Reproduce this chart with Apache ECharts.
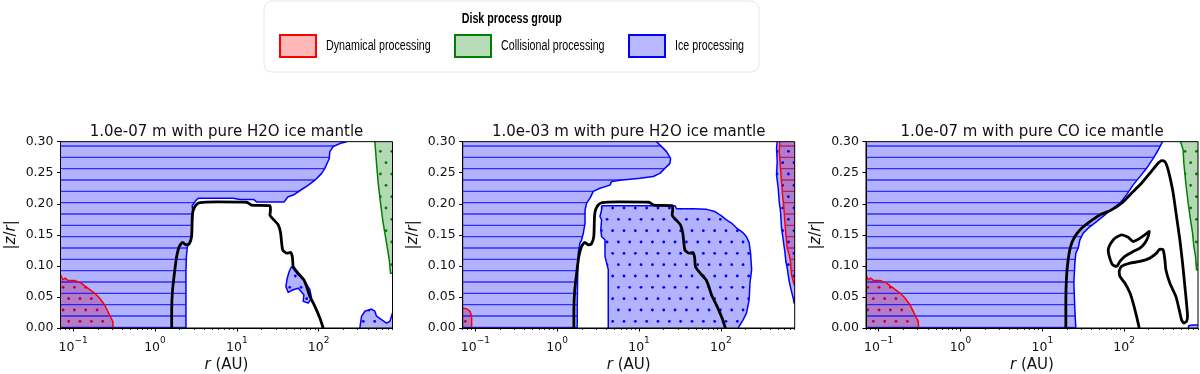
<!DOCTYPE html>
<html><head><meta charset="utf-8">
<script src="https://cdn.jsdelivr.net/npm/echarts@6/dist/echarts.min.js"></script>
<style>html,body{margin:0;padding:0;background:#fff}#c{width:1200px;height:374px}</style>
</head><body><div id="c"></div>
<script>
// ---------------- DATA ----------------
const rMin = 0.07, rMax = 800;          // AU (log axis range)
const zMin = 0, zMax = 0.3, zStep = 0.05;
const xMajorTicks = [0.1, 1, 10, 100];
const panelTitles = [
  '1.0e-07 m with pure H2O ice mantle',
  '1.0e-03 m with pure H2O ice mantle',
  '1.0e-07 m with pure CO ice mantle'
];
const legendTitle = 'Disk process group';
const legendNames = ['Dynamical processing', 'Collisional processing', 'Ice processing'];
const xName = '{i|r} (AU)';
const yName = '|{i|z}/{i|r}|';

// region outlines as [r (AU), |z/r|]
const dynInner = [[0.07,0.0857],[0.0747,0.0777],[0.0798,0.0804],[0.086,0.0766],[0.104,0.0766],[0.125,0.0723],[0.151,0.0643],[0.182,0.0563],[0.21,0.0482],[0.241,0.0375],[0.265,0.0268],[0.286,0.0177],[0.305,0.0107],[0.308,0],[0.07,0]];

const p1Ice = [[0.07,0.3],[219,0.3],[182,0.297],[151,0.292],[137,0.284],[135,0.273],[119,0.257],[109,0.249],[90,0.238],[75,0.230],[62,0.223],[49,0.214],[42,0.211],[38,0.203],[28,0.203],[17.4,0.203],[16,0.207],[11,0.207],[9,0.209],[3.4,0.209],[3.2,0.206],[2.85,0.197],[2.9,0.185],[2.85,0.17],[2.8,0.15],[2.65,0.137],[2.48,0.13],[2.42,0.115],[2.39,0.09],[2.39,0],[0.07,0]];
const p1IceA = [[46.7,0.099],[56.3,0.0857],[67.9,0.075],[78.2,0.0616],[82,0.048],[74.6,0.040],[64.8,0.043],[66.1,0.0536],[56.3,0.064],[48.9,0.0616],[42.5,0.0573],[39.8,0.067],[41.3,0.080],[43.7,0.091]];
const p1IceB = [[319,0],[335,0.019],[368,0.027],[443,0.0305],[487,0.027],[510,0.019],[587,0.0134],[676,0.008],[743,0.0107],[800,0.024],[800,0]];
const p1Col = [[487,0.3],[500,0.281],[510,0.265],[535,0.233],[571,0.201],[615,0.169],[676,0.137],[730,0.11],[757,0.088],[800,0.088],[800,0.3]];

const p2Ice = [[0.07,0.3],[16.4,0.3],[18.9,0.292],[21.7,0.284],[24.3,0.273],[23.9,0.265],[20.7,0.257],[18,0.249],[14.9,0.244],[10.3,0.241],[5.85,0.238],[4.63,0.236],[4.42,0.23],[3.33,0.225],[2.76,0.22],[2.52,0.209],[2.29,0.201],[2.19,0.19],[2.19,0.169],[2.09,0.153],[1.99,0.142],[1.90,0.137],[1.81,0.121],[1.78,0.083],[1.76,0.04],[1.76,0],[0.07,0]];
const p2Dyn = [[0.07,0.032],[0.078,0.031],[0.086,0.0268],[0.09,0.019],[0.09,0],[0.07,0]];
const p2IceDots = [[3.49,0.197],[3.49,0.19],[3.33,0.1795],[3.49,0.174],[3.41,0.158],[3.49,0.147],[3.84,0.142],[3.84,0.115],[4.02,0.1045],[4.21,0.094],[4.21,0],[163,0],[188,0.0134],[206,0.024],[222,0.0455],[227,0.072],[238,0.094],[231,0.1205],[222,0.137],[206,0.147],[188,0.153],[156,0.161],[135,0.169],[117,0.174],[102,0.1805],[84.7,0.1875],[67,0.191],[46,0.192],[28.8,0.192],[27.5,0.197]];
const p2StripIce = [[489,0.3],[480,0.2893],[489,0.2679],[480,0.2464],[503,0.225],[517,0.2036],[537,0.1875],[552,0.1607],[568,0.15],[590,0.1339],[606,0.1232],[624,0.1071],[648,0.0964],[685,0.075],[731,0.0589],[767,0.0482],[788,0.0402],[800,0.04],[800,0.3]];
const p2StripDyn = [[527,0.3],[517,0.2839],[537,0.2571],[552,0.2357],[568,0.2143],[590,0.1929],[606,0.1714],[624,0.15],[648,0.1286],[685,0.1179],[711,0.1071],[731,0.0857],[767,0.075],[788,0.0696],[800,0.0696],[800,0.3]];

const p3Ice = [[0.07,0.3],[295,0.3],[261,0.2866],[227,0.2732],[188,0.2571],[156,0.2437],[129,0.2304],[107,0.2143],[88.8,0.2009],[73.6,0.1929],[58.2,0.1821],[46,0.1714],[36.4,0.1607],[31.6,0.1527],[28.8,0.142],[27.5,0.1286],[25.7,0.1205],[25,0.1045],[24.3,0.0723],[25,0.0295],[25.7,0],[0.07,0]];
const p3Col = [[489,0.3],[527,0.2866],[537,0.2652],[568,0.233],[607,0.2009],[648,0.1741],[686,0.1527],[712,0.1313],[746,0.1152],[767,0.0938],[800,0.0938],[800,0.3]];
const p3IceSmall = [[607,0],[620,0.004],[700,0.005],[800,0.005],[800,0]];

// black contour lines
const blackH2O = [[1.60,0],[1.60,0.0295],[1.64,0.0616],[1.75,0.094],[1.84,0.115],[1.98,0.131],[2.18,0.138],[2.39,0.134],[2.62,0.1355],[2.80,0.147],[2.86,0.18],[2.94,0.19],[3.17,0.198],[3.54,0.202],[5.66,0.203],[13.2,0.2025],[15.1,0.198],[25.4,0.197],[25.8,0.19],[25.4,0.182],[28.4,0.174],[32.1,0.166],[34.3,0.153],[36.3,0.126],[40.6,0.1205],[45.8,0.1216],[48,0.1125],[48.9,0.099],[56.3,0.088],[66,0.0777],[71.2,0.067],[78.2,0.051],[90,0.0348],[103.5,0.016],[113.7,0]];
const blackCO = [[19.4,0],[19.4,0.0455],[19.8,0.083],[20.7,0.1098],[22.2,0.1313],[25,0.1473],[30.2,0.1607],[38.2,0.1714],[50.6,0.1821],[70.2,0.1902],[93,0.2009],[123,0.217],[163,0.233],[206,0.249],[249,0.2625],[287,0.2695],[315,0.2679],[336,0.2598],[362,0.2437],[398,0.217],[437,0.1795],[480,0.142],[518,0.1045],[553,0.067],[579,0.0402],[596,0.01875],[579,0.0107],[537,0.008],[503,0.0134],[471,0.0295],[429,0.0509],[362,0.0723],[324,0.0938],[315,0.1098],[300,0.1259],[273,0.127],[249,0.1205],[206,0.1125],[156,0.1071],[118,0.1045],[93,0.0991],[87.1,0.0911],[88.8,0.083],[102,0.0723],[118,0.0563],[129,0.0402],[142,0.0188],[153,0]];
const blackCOLoop = [[77.1,0.1446],[93,0.15],[112,0.1462],[129,0.1393],[149,0.143],[179,0.15],[203,0.1554],[197,0.1473],[179,0.1366],[156,0.1286],[129,0.1232],[102,0.1152],[88.8,0.1071],[80.8,0.0991],[72.2,0.1018],[65.8,0.1152],[63.9,0.1259],[67,0.1339],[73.6,0.142],[77.1,0.1446]];

// ---------------- STYLE / LAYOUT ----------------
const FONT = '"DejaVu Sans", sans-serif';
const LFONT = '"Liberation Sans", Arial, sans-serif';
const gridLefts = [60.5, 462.7, 866];
const gridW = 332, gridTop = 141.67, gridH = 186.67;
const groups = {
  dyn: {name: legendNames[0], rgb: '255,0,0', edge: '#ff0000', z: 2},
  col: {name: legendNames[1], rgb: '0,128,0', edge: '#008000', z: 2},
  ice: {name: legendNames[2], rgb: '0,0,255', edge: '#0000ff', z: 3}
};
const panels = [
  {regions: [[dynInner,'dyn','dots'],[p1Col,'col','dots'],[p1Ice,'ice','lines'],[p1IceA,'ice','dots'],[p1IceB,'ice','dots']], lines: [blackH2O]},
  {regions: [[p2Dyn,'dyn','dots'],[p2StripDyn,'dyn','lines'],[p2Ice,'ice','lines'],[p2IceDots,'ice','dots'],[p2StripIce,'ice','dots']], lines: [blackH2O]},
  {regions: [[dynInner,'dyn','dots'],[p3Col,'col','dots'],[p3Ice,'ice','lines'],[p3IceSmall,'ice','dots']], lines: [blackCO, blackCOLoop]}
];

// hatch patterns (anchored to canvas origin like matplotlib hatches)
const HP = 68 / 6;
function makePattern(kind, rgb) {
  const W = 34, H = 68;
  const c = document.createElement('canvas'); c.width = W; c.height = H;
  const g = c.getContext('2d');
  g.fillStyle = 'rgba(' + rgb + ',0.3)'; g.fillRect(0, 0, W, H);
  if (kind === 'lines') {
    g.strokeStyle = 'rgba(' + rgb + ',0.75)'; g.lineWidth = 1.3;
    for (let k = 0; k < 6; k++) { const y = 10 + k * HP; g.beginPath(); g.moveTo(0, y); g.lineTo(W, y); g.stroke(); }
  } else if (kind === 'dots') {
    g.fillStyle = 'rgb(' + rgb + ')';
    for (let k = 0; k < 6; k++) {
      const y = 4 + k * HP; const off = (k % 2 === 1) ? 6.4 : 0.67;
      for (let j = -1; j < 4; j++) { g.beginPath(); g.arc(off + j * HP, y, 1.4, 0, Math.PI * 2); g.fill(); }
    }
  }
  return {image: c, repeat: 'repeat'};
}
const patterns = {};
for (const k in groups) { patterns[k + '_lines'] = makePattern('lines', groups[k].rgb); patterns[k + '_dots'] = makePattern('dots', groups[k].rgb); }

function onSameEdge(a, b) {
  const L = p => p[0] <= rMin * 1.001, R = p => p[0] >= rMax * 0.999;
  const B = p => p[1] <= zMin + 1e-6, T = p => p[1] >= zMax - 1e-6;
  return (L(a) && L(b)) || (R(a) && R(b)) || (B(a) && B(b)) || (T(a) && T(b));
}
const toXY = p => [Math.log10(p[0]), p[1]];

const series = [];
panels.forEach((pan, pi) => {
  pan.regions.forEach(([pts, gk, hatch]) => {
    const grp = groups[gk];
    series.push({
      type: 'custom', name: grp.name, coordinateSystem: 'cartesian2d', xAxisIndex: pi * 2, yAxisIndex: pi,
      z: grp.z, silent: true, clip: true, data: [[0, 0]],
      renderItem: (params, api) => ({
        type: 'polygon',
        shape: {points: pts.map(p => api.coord(toXY(p)))},
        style: {fill: patterns[gk + '_' + hatch], stroke: null}
      })
    });
    series.push({
      type: 'custom', name: grp.name + ' edge', coordinateSystem: 'cartesian2d', xAxisIndex: pi * 2, yAxisIndex: pi,
      z: 4, silent: true, clip: true, data: [[0, 0]],
      renderItem: (params, api) => {
        const n = pts.length, segs = []; let cur = null;
        for (let i = 0; i < n; i++) {
          const a = pts[i], b = pts[(i + 1) % n];
          if (onSameEdge(a, b)) { if (cur) { segs.push(cur); cur = null; } continue; }
          if (!cur) cur = [a];
          cur.push(b);
        }
        if (cur) segs.push(cur);
        return {type: 'group', children: segs.map(s => ({
          type: 'polyline', shape: {points: s.map(p => api.coord(toXY(p)))},
          style: {stroke: grp.edge, lineWidth: 1.5, fill: null, lineJoin: 'round'}
        }))};
      }
    });
  });
  pan.lines.forEach(ln => {
    series.push({
      type: 'line', xAxisIndex: pi * 2, yAxisIndex: pi, data: ln.map(toXY),
      symbol: 'none', showSymbol: false, smooth: 0.2, silent: true, clip: true, z: 5,
      lineStyle: {color: '#000', width: 2.8, join: 'round'}
    });
  });
});

const lmin = Math.log10(rMin), lmax = Math.log10(rMax);
const majorVals = xMajorTicks.map(Math.log10);
const minorVals = [];
for (let n = -2; n <= 3; n++) for (let k = 2; k <= 9; k++) {
  const v = Math.log10(k * Math.pow(10, n)); if (v >= lmin && v <= lmax) minorVals.push(v);
}
const supText = e => (e < 0 ? '\u2212' + (-e) : '' + e);

const grids = [], xAxes = [], yAxes = [];
gridLefts.forEach((gl, pi) => {
  grids.push({left: gl, top: gridTop, width: gridW, height: gridH, show: true, borderColor: '#000', borderWidth: 1, backgroundColor: 'transparent', z: 10});
  xAxes.push({
    type: 'value', gridIndex: pi, position: 'bottom', min: lmin, max: lmax, z: 10,
    axisLine: {show: true, onZero: false, lineStyle: {color: '#000', width: 1}},
    axisTick: {show: true, customValues: majorVals, length: 3.5, lineStyle: {color: '#000', width: 1}},
    splitLine: {show: false},
    axisLabel: {
      customValues: majorVals, margin: 8, color: '#111',
      formatter: v => '{b|10}{s|' + supText(Math.round(v)) + '}',
      rich: {b: {fontSize: 12.5, fontFamily: FONT, color: '#111', lineHeight: 18, verticalAlign: 'bottom'},
             s: {fontSize: 9, fontFamily: FONT, color: '#111', lineHeight: 9, verticalAlign: 'top'}}
    },
    name: xName, nameLocation: 'middle', nameGap: 30,
    nameTextStyle: {fontSize: 15, fontFamily: FONT, color: '#111', rich: {i: {fontSize: 15, fontFamily: FONT, fontStyle: 'italic', color: '#111'}}}
  });
  xAxes.push({
    type: 'value', gridIndex: pi, position: 'bottom', min: lmin, max: lmax, z: 10,
    axisLine: {show: false, onZero: false}, splitLine: {show: false}, axisLabel: {show: false},
    axisTick: {show: true, customValues: minorVals, length: 2, lineStyle: {color: '#000', width: 0.8}}
  });
  yAxes.push({
    type: 'value', gridIndex: pi, min: zMin, max: zMax, interval: zStep, z: 10,
    axisLine: {show: true, onZero: false, lineStyle: {color: '#000', width: 1}},
    axisTick: {show: true, length: 3.5, lineStyle: {color: '#000', width: 1}},
    splitLine: {show: false},
    axisLabel: {fontSize: 12.5, fontFamily: FONT, color: '#111', margin: 7, formatter: v => v.toFixed(2)},
    name: yName, nameLocation: 'middle', nameRotate: 90, nameGap: 42,
    nameTextStyle: {fontSize: 15, fontFamily: FONT, color: '#111', rich: {i: {fontSize: 15, fontFamily: FONT, fontStyle: 'italic', color: '#111'}}}
  });
});

const graphics = panelTitles.map((t, i) => ({
  type: 'text', x: gridLefts[i] + gridW / 2, y: 132, z: 20,
  style: {text: t, fontSize: 15, fontFamily: FONT, fill: '#111', align: 'center', verticalAlign: 'middle'}
}));

// legend box drawn with graphic elements (condensed text like the reference)
const legendFills = ['rgba(255,0,0,0.28)', 'rgba(0,128,0,0.28)', 'rgba(0,0,255,0.28)'];
const legendEdges = ['#ff0000', '#008000', '#0000ff'];
const legendSwatchX = [279, 454, 628];
const LSX = 0.765;
graphics.push({type: 'rect', x: 264, y: 1, z: 15, shape: {width: 495, height: 71, r: 8}, style: {fill: '#fff', stroke: '#e6e6e6', lineWidth: 1}});
graphics.push({type: 'text', x: 511.7, y: 19, z: 20, scaleX: LSX,
  style: {text: legendTitle, fontSize: 14, fontWeight: 'bold', fontFamily: LFONT, fill: '#000', align: 'center', verticalAlign: 'middle'}});
legendNames.forEach((n, i) => {
  graphics.push({type: 'rect', x: legendSwatchX[i] + 1, y: 35, z: 20, shape: {width: 36, height: 22},
    style: {fill: legendFills[i], stroke: legendEdges[i], lineWidth: 2}});
  graphics.push({type: 'text', x: legendSwatchX[i] + 47, y: 46.5, z: 20, scaleX: LSX,
    style: {text: n, fontSize: 14, fontFamily: LFONT, fill: '#000', align: 'left', verticalAlign: 'middle'}});
});

const chart = echarts.init(document.getElementById('c'), null, {renderer: 'canvas'});
chart.setOption({
  animation: false,
  backgroundColor: '#fff',
  grid: grids, xAxis: xAxes, yAxis: yAxes, series: series, graphic: graphics
});
</script></body></html>
